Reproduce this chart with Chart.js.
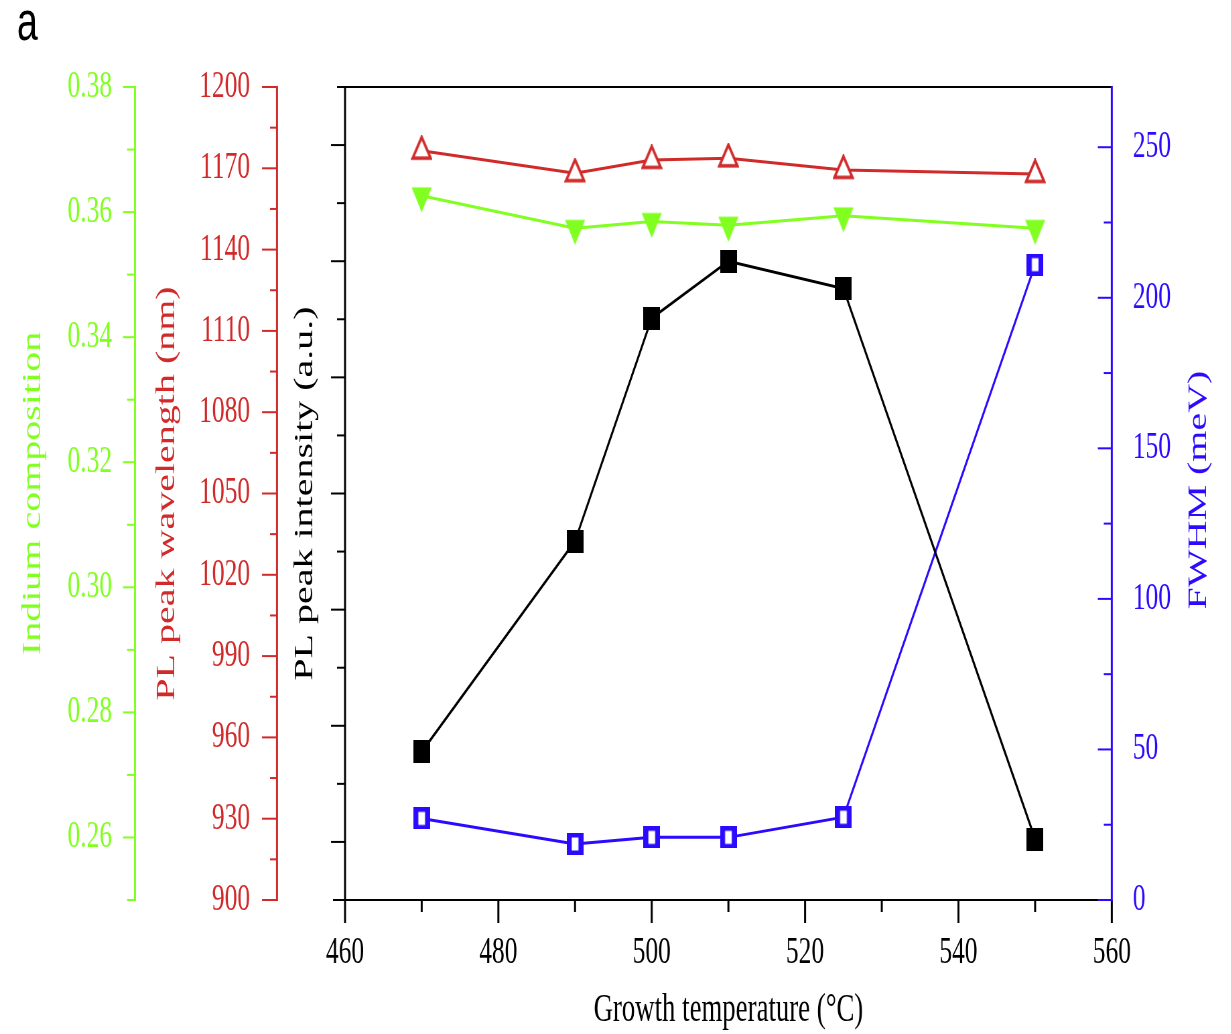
<!DOCTYPE html>
<html><head><meta charset="utf-8">
<script src="https://cdn.jsdelivr.net/npm/chart.js@4.4.1/dist/chart.umd.min.js"></script>
<style>
html,body{margin:0;padding:0;background:#fff;overflow:hidden;}
#wrap{position:absolute;left:0;top:0;transform-origin:0 0;}
</style></head><body>
<div id="wrap"><canvas id="c"></canvas></div>
<script>
// ---- data ----
const temperature = [470, 490, 500, 510, 525, 550];
const plWavelength = [1176.5, 1168.2, 1173.1, 1173.7, 1169.4, 1167.9];
const indiumComposition = [0.3626, 0.3574, 0.3585, 0.3579, 0.3594, 0.3574];
const plIntensity = [2.55, 6.18, 10.02, 11.0, 10.53, 1.05];
const fwhm = [27.1, 18.6, 20.8, 20.8, 27.5, 211];

const xRange = [460, 560], xStep = 10, xLabelStep = 20;
const indiumRange = [0.25, 0.38], indiumStep = 0.01;
const wavelengthRange = [900, 1200], wavelengthStep = 15, wavelengthLabelStep = 30;
const intensityRange = [0, 14], intensityStep = 1;
const fwhmRange = [0, 270], fwhmStep = 25, fwhmLabelStep = 50;

const xTitle = 'Growth temperature (°C)';
const indiumTitle = 'Indium composition';
const wavelengthTitle = 'PL peak wavelength (nm)';
const intensityTitle = 'PL peak intensity (a.u.)';
const fwhmTitle = 'FWHM (meV)';
const panelLabel = 'a';

// ---- layout (horizontal compression of the reference) ----
const S = 0.67;
const W = Math.round(1231 / S), H = 1034;
const wrap = document.getElementById('wrap');
wrap.style.width = W + 'px'; wrap.style.height = H + 'px';
wrap.style.transform = 'scaleX(' + S + ')';
const cv = document.getElementById('c');
cv.width = W; cv.height = H;
cv.style.width = W + 'px'; cv.style.height = H + 'px';

const GREEN = '#80ff20', RED = '#d12a2a', BLUE = '#2b0bff', BLACK = '#000';
const FONT = '"Liberation Serif", "Times New Roman", serif';

function mk(w, h, draw) {
  const c = document.createElement('canvas');
  c.width = w; c.height = h;
  draw(c.getContext('2d'));
  return c;
}
const blackSq = mk(25, 23, g => { g.fillStyle = BLACK; g.fillRect(0, 0, 25, 23); });
const blueSq = mk(25, 22, g => { g.fillStyle = BLUE; g.fillRect(0, 0, 25, 22); g.fillStyle = '#fff'; g.fillRect(7.5, 4.5, 10, 13); });
const redTri = mk(32, 31, g => {
  g.beginPath(); g.moveTo(16, 2); g.lineTo(2.5, 23); g.lineTo(29.5, 23); g.closePath();
  g.fillStyle = '#fff'; g.fill(); g.strokeStyle = RED; g.lineWidth = 3.5; g.lineJoin = 'miter'; g.stroke();
});
const greenTri = mk(31, 34, g => {
  g.beginPath(); g.moveTo(0.5, 8.5); g.lineTo(30.5, 8.5); g.lineTo(15.5, 33.5); g.closePath();
  g.fillStyle = GREEN; g.fill();
});

const pts = arr => temperature.map((t, i) => ({ x: t, y: arr[i] }));

const tickFont = { family: FONT, size: 38 };
const titleFont = { family: FONT, size: 40, lineHeight: 1.2 };

function yScale(opts) {
  return Object.assign({
    type: 'linear',
    grid: { display: false, drawTicks: false },
    border: { display: false },
  }, opts);
}

const axisSpecs = [
  { id: 'yIndium', color: GREEN, side: 'left', isMajor: v => Math.round(v * 100) % 2 === 0, maj: 12 / S, min: 8 / S },
  { id: 'yWave', color: RED, side: 'left', isMajor: v => Math.round(v - wavelengthRange[0]) % wavelengthLabelStep === 0, maj: 15 / S, min: 7 / S },
  { id: 'yInt', color: BLACK, side: 'left', isMajor: v => Math.round(v) % 2 === 1, maj: 14 / S, min: 8 / S },
  { id: 'yFwhm', color: BLUE, side: 'right', isMajor: v => Math.round(v) % fwhmLabelStep === 0, maj: 14 / S, min: 8 / S },
];

const axesPlugin = {
  id: 'axesDraw',
  beforeDatasetsDraw(chart) {
    const ctx = chart.ctx, ca = chart.chartArea;
    const ln = (x1, y1, x2, y2, c, w) => { ctx.beginPath(); ctx.moveTo(x1, y1); ctx.lineTo(x2, y2); ctx.strokeStyle = c; ctx.lineWidth = w; ctx.stroke(); };
    ctx.save();
    ctx.lineCap = 'butt';
    // top border
    ln(ca.left, ca.top, ca.right, ca.top, BLACK, 2);
    // x axis
    const xs = chart.scales.x;
    ln(ca.left - 12 / S, ca.bottom, ca.right, ca.bottom, BLACK, 2);
    xs.ticks.forEach(t => {
      const px = xs.getPixelForValue(t.value);
      const major = Math.round(t.value - xRange[0]) % xLabelStep === 0;
      ln(px, ca.bottom, px, ca.bottom + (major ? 23 : 12), BLACK, 3);
    });
    // y axes
    axisSpecs.forEach(sp => {
      const sc = chart.scales[sp.id];
      const x0 = sp.side === 'left' ? sc.right : sc.left;
      sc.ticks.forEach(t => {
        const py = sc.getPixelForValue(t.value);
        const len = sp.isMajor(t.value) ? sp.maj : sp.min;
        ln(x0, py, x0 - len, py, sp.color, 2);
      });
      ln(x0, ca.top - 1, x0, ca.bottom + 1, sp.color, 3);
    });
    // right-axis title (reads bottom to top)
    ctx.save();
    ctx.translate(1199 / S, 490);
    ctx.rotate(-Math.PI / 2);
    ctx.font = '40px ' + FONT;
    ctx.fillStyle = BLUE; ctx.textAlign = 'center'; ctx.textBaseline = 'middle';
    ctx.fillText(fwhmTitle, 0, 0);
    ctx.restore();
    // panel label
    ctx.font = '56px "Liberation Sans", Arial, sans-serif';
    ctx.fillStyle = BLACK; ctx.textAlign = 'left'; ctx.textBaseline = 'alphabetic';
    ctx.fillText(panelLabel, 17 / S, 40);
    ctx.restore();
  }
};

new Chart(cv, {
  type: 'line',
  data: {
    datasets: [
      { label: 'PL peak wavelength', data: pts(plWavelength), yAxisID: 'yWave', borderColor: RED, backgroundColor: RED, borderWidth: 3, pointStyle: redTri, pointRadius: 12, tension: 0, fill: false },
      { label: 'Indium composition', data: pts(indiumComposition), yAxisID: 'yIndium', borderColor: GREEN, backgroundColor: GREEN, borderWidth: 3, pointStyle: greenTri, pointRadius: 12, tension: 0, fill: false },
      { label: 'PL peak intensity', data: pts(plIntensity), yAxisID: 'yInt', borderColor: BLACK, backgroundColor: BLACK, borderWidth: 3, pointStyle: blackSq, pointRadius: 12, tension: 0, fill: false },
      { label: 'FWHM', data: pts(fwhm), yAxisID: 'yFwhm', borderColor: BLUE, backgroundColor: BLUE, borderWidth: 3, pointStyle: blueSq, pointRadius: 12, tension: 0, fill: false },
    ]
  },
  options: {
    responsive: false,
    devicePixelRatio: 1,
    animation: false,
    layout: { padding: { top: 87, left: 0, right: 0, bottom: 0 } },
    plugins: { legend: { display: false }, tooltip: { enabled: false } },
    scales: {
      x: {
        type: 'linear', position: 'bottom', min: xRange[0], max: xRange[1],
        grid: { display: false, drawTicks: false }, border: { display: false },
        ticks: { stepSize: xStep, autoSkip: false, maxRotation: 0, minRotation: 0, includeBounds: false, maxTicksLimit: 100,
          padding: 30, color: BLACK, font: tickFont, callback: v => (Math.round(v - xRange[0]) % xLabelStep === 0 ? String(v) : '') },
        title: { display: true, text: xTitle, color: BLACK, font: titleFont, padding: { top: 0, bottom: 0 } },
        afterFit: s => { s.height = 134; }
      },
      yIndium: yScale({
        position: 'left', weight: 2, min: indiumRange[0], max: indiumRange[1],
        ticks: { stepSize: indiumStep, autoSkip: false, includeBounds: false, maxTicksLimit: 100, padding: 23 / S, color: GREEN, font: tickFont,
          callback: v => (Math.round(v * 100) % 2 === 0 ? Number(v).toFixed(2) : '') },
        title: { display: true, text: indiumTitle, color: GREEN, font: titleFont, padding: { top: 25, bottom: 0 } },
        afterFit: s => { s.width = 135 / S; }
      }),
      yWave: yScale({
        position: 'left', weight: 1, min: wavelengthRange[0], max: wavelengthRange[1],
        ticks: { stepSize: wavelengthStep, autoSkip: false, includeBounds: false, maxTicksLimit: 100, padding: 27 / S, color: RED, font: tickFont,
          callback: v => (Math.round(v - wavelengthRange[0]) % wavelengthLabelStep === 0 ? String(v) : '') },
        title: { display: true, text: wavelengthTitle, color: RED, font: titleFont, padding: { top: 24, bottom: 0 } },
        afterFit: s => { s.width = (277 - 135) / S; }
      }),
      yInt: yScale({
        position: 'left', weight: 0, min: intensityRange[0], max: intensityRange[1],
        ticks: { display: false, stepSize: intensityStep, autoSkip: false, includeBounds: false, maxTicksLimit: 100 },
        title: { display: true, text: intensityTitle, color: BLACK, font: titleFont, padding: { top: 18, bottom: 0 } },
        afterFit: s => { s.width = (345 - 277) / S; }
      }),
      yFwhm: yScale({
        position: 'right', min: fwhmRange[0], max: fwhmRange[1],
        ticks: { stepSize: fwhmStep, autoSkip: false, includeBounds: false, maxTicksLimit: 100, padding: 21 / S, color: BLUE, font: tickFont,
          callback: v => (Math.round(v) % fwhmLabelStep === 0 ? String(v) : '') },
        title: { display: false },
        afterFit: s => { s.width = (1231 - 1112) / S; }
      }),
    }
  },
  plugins: [axesPlugin]
});
</script>
</body></html>
